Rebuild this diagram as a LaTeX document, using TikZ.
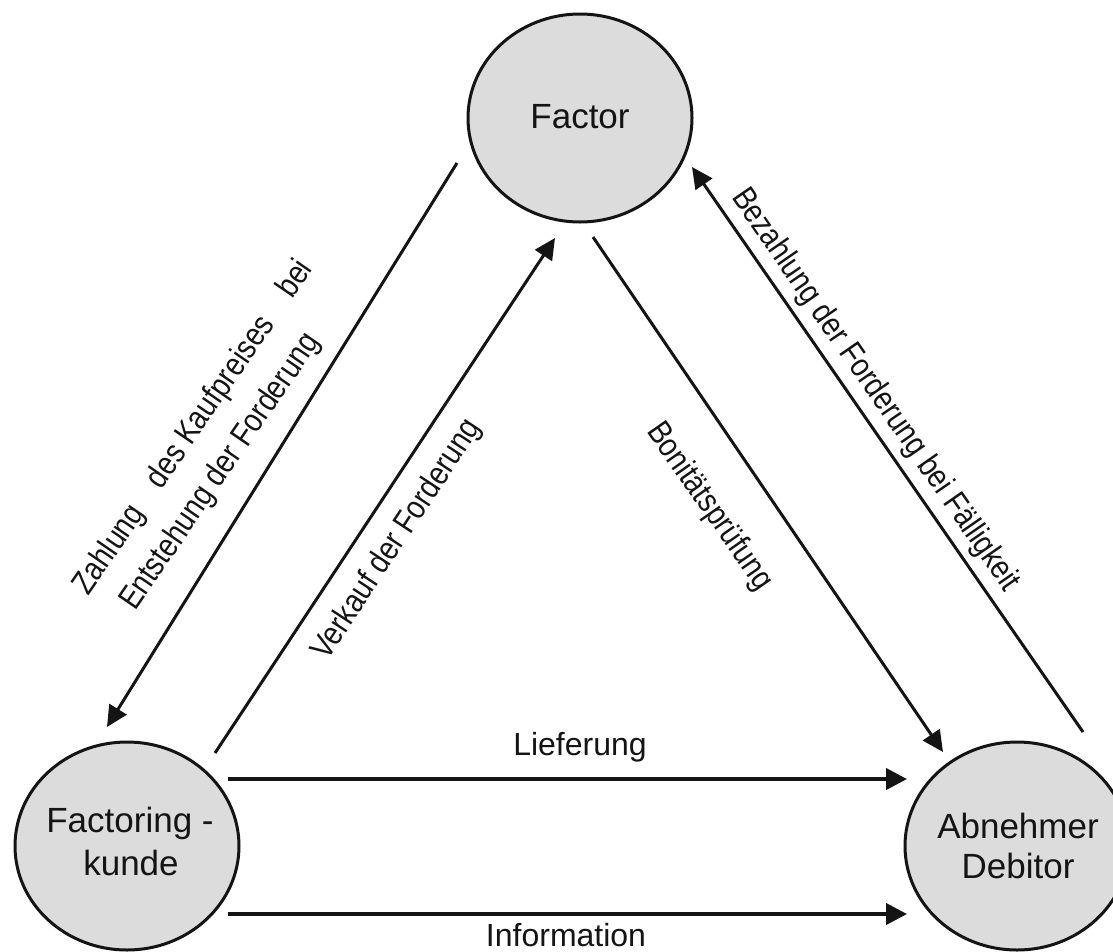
\documentclass[tikz,border=0pt]{standalone}
\usepackage{fontspec}
\setmainfont{Liberation Sans}
\newfontfamily\cond[FakeStretch=0.85]{Liberation Sans}
\usetikzlibrary{arrows.meta,shapes.geometric}
\definecolor{fillgray}{RGB}{220,220,220}
\definecolor{ink}{RGB}{20,20,20}
\tikzset{
  party/.style={ellipse, draw=ink, line width=3pt, fill=fillgray,
    minimum width=224pt, minimum height=208pt, inner sep=0pt},
  ptext/.style={font=\fontsize{35}{43}\selectfont, text=ink, inner sep=0pt, anchor=base},
  flow/.style={draw=ink, line width=3pt, -{Triangle[length=21pt,width=20pt]}},
  hflow/.style={draw=ink, line width=4pt, -{Triangle[length=21pt,width=21pt]}},
  elabel/.style={font=\cond\fontsize{33}{39}\selectfont, text=ink, inner sep=0pt, anchor=base west},
  hlabel/.style={font=\fontsize{32}{38}\selectfont, text=ink, inner sep=0pt, anchor=base},
}
\begin{document}
\begin{tikzpicture}[x=1pt,y=-1pt]
\useasboundingbox (0,0) rectangle (1113,951);
\clip (0,0) rectangle (1113,951);
\fill[white] (0,0) rectangle (1113,951);

% parties
\node[party] (factor) at (580,118) {};
\node[party] (kunde) at (127,846) {};
\node[party] (debitor) at (1017,846) {};
\node[ptext] (factorT) at (580,128) {Factor};
\node[ptext] (kundeT1) at (130,832) {Factoring -};
\node[ptext] (kundeT2) at (131,875) {kunde};
\node[ptext] (debT1) at (1018,838) {Abnehmer};
\node[ptext] (debT2) at (1018,878) {Debitor};

% connector end points
\coordinate (z1) at (457,163);
\coordinate (z2) at (107,727);
\coordinate (v1) at (215,753);
\coordinate (v2) at (555,238);
\coordinate (b1) at (593,237);
\coordinate (b2) at (943,752);
\coordinate (p1) at (1083,732);
\coordinate (p2) at (692,167);
\coordinate (l1) at (228,779);
\coordinate (l2) at (907,779);
\coordinate (i1) at (228,914);
\coordinate (i2) at (907,914);

\draw[flow] (z1) -- (z2);
\draw[flow] (v1) -- (v2);
\draw[flow] (b1) -- (b2);
\draw[flow] (p1) -- (p2);
\draw[hflow] (l1) -- (l2);
\draw[hflow] (i1) -- (i2);

% labels
\node[elabel, rotate=55.5] (zl1) at (88,597) {Zahlung\hspace{28pt}des Kaufpreises\hspace{30pt}bei};
\node[elabel, rotate=55.5] (zl2) at (135,612) {Entstehung der Forderung};
\node[elabel, rotate=56.6] (vl) at (327,662) {Verkauf der Forderung};
\node[elabel, rotate=-55] (bl) at (646,431) {Bonitätsprüfung};
\node[elabel, rotate=-55.3] (pl) at (731,197) {Bezahlung der Forderung bei Fälligkeit};
\node[hlabel] (ll) at (580,755) {Lieferung};
\node[hlabel] (il) at (566,946) {Information};
\end{tikzpicture}
\end{document}
